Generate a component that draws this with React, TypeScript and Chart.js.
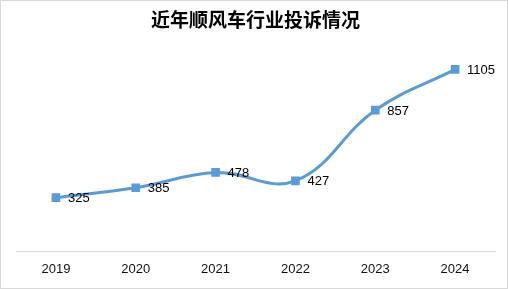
import React, { useEffect, useRef } from "react";
import { Chart, registerables } from "chart.js";

Chart.register(...registerables);

const categories = ["2019", "2020", "2021", "2022", "2023", "2024"];
const complaints = [325, 385, 478, 427, 857, 1105];
const titleText = "近年顺风车行业投诉情况";

const labelPlugin = {
  id: "pointLabels",
  afterDatasetsDraw(chart: any) {
    const ctx = chart.ctx;
    const meta = chart.getDatasetMeta(0);
    ctx.save();
    ctx.font = "13px 'Liberation Sans', 'DejaVu Sans', sans-serif";
    ctx.fillStyle = "#000000";
    ctx.textAlign = "left";
    ctx.textBaseline = "middle";
    meta.data.forEach((pt: any, i: number) => {
      ctx.fillText(String(complaints[i]), pt.x + 12, pt.y + 1);
    });
    ctx.restore();
  },
};

export default function App() {
  const ref = useRef<HTMLCanvasElement>(null);
  useEffect(() => {
    if (!ref.current) return;
    const chart = new Chart(ref.current, {
      type: "line",
      data: {
        labels: categories,
        datasets: [
          {
            data: complaints,
            borderColor: "#5B9BD5",
            backgroundColor: "#5B9BD5",
            borderWidth: 3,
            tension: 0.4,
            pointStyle: "rect",
            pointRadius: 4,
            pointBackgroundColor: "#5B9BD5",
            pointBorderColor: "#5B9BD5",
          },
        ],
      },
      options: {
        responsive: false,
        animation: false,
        layout: { padding: { left: 15, right: 12, top: 0, bottom: 0 } },
        plugins: {
          legend: { display: false },
          tooltip: { enabled: false },
          title: {
            display: true,
            text: titleText,
            color: "#000000",
            font: { family: "'Noto Sans CJK SC', sans-serif", size: 19, weight: "bold" },
            padding: { top: 7, bottom: 23 },
          },
        },
        scales: {
          x: {
            offset: true,
            grid: { display: false, drawTicks: false },
            border: { display: true, color: "#d9d9d9", width: 1 },
            ticks: {
              color: "#111111",
              padding: 10.7,
              font: { family: "'Liberation Sans', 'DejaVu Sans', sans-serif", size: 13 },
            },
          },
          y: {
            display: false,
            min: 0,
            max: 1200,
          },
        },
      },
      plugins: [labelPlugin],
    });
    return () => chart.destroy();
  }, []);
  return (
    <div
      style={{
        position: "fixed",
        left: 0,
        top: 0,
        width: 508,
        height: 289,
        boxSizing: "border-box",
        border: "1px solid #d9d9d9",
        background: "#ffffff",
      }}
    >
      <canvas ref={ref} width={506} height={287} style={{ display: "block" }} />
    </div>
  );
}
